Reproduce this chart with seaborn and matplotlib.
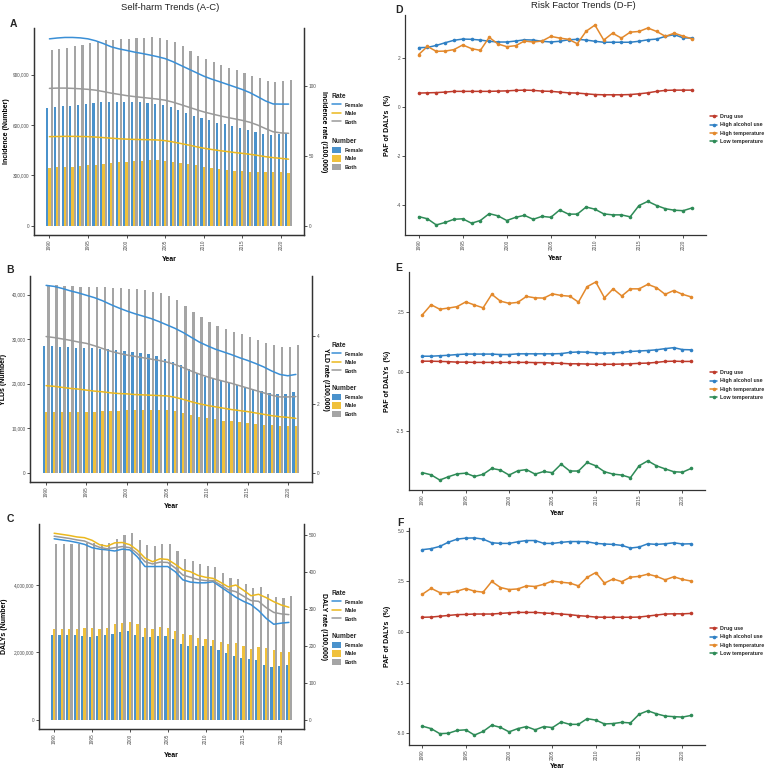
import numpy as np
import pandas as pd
import matplotlib
matplotlib.use('Agg')
import matplotlib.pyplot as plt
import seaborn as sns
from matplotlib.lines import Line2D
from matplotlib.patches import Patch
from matplotlib.ticker import FuncFormatter

years = list(range(1990, 2022))
sexes = ['Female', 'Male', 'Both']
risks = ['Drug use', 'High alcohol use', 'High temperature', 'Low temperature']

# --- A: incidence ---
inc_female = [699, 705, 711, 713, 719, 725, 731, 735, 735, 735, 735, 737, 735, 731, 725, 717,
              705, 690, 672, 654, 640, 628, 614, 604, 594, 584, 572, 558, 546, 542, 546, 550]
inc_male = [346, 348, 350, 352, 355, 358, 363, 367, 372, 376, 380, 383, 386, 388, 389, 386,
            380, 374, 366, 358, 350, 343, 337, 332, 327, 323, 320, 318, 318, 318, 318, 316]
inc_both = [1047, 1053, 1059, 1067, 1077, 1089, 1099, 1103, 1107, 1109, 1113, 1117, 1119, 1121, 1115, 1107,
            1091, 1067, 1041, 1013, 992, 972, 954, 938, 924, 910, 894, 878, 864, 858, 864, 868]
inc_rate_female = [134.2, 134.8, 135.2, 135.2, 134.9, 134.2, 132.8, 130.8, 128.5, 127.0, 125.9, 124.7, 123.7, 122.6, 121.4, 120.0,
                   117.8, 115.2, 112.6, 110.0, 107.4, 105.3, 103.5, 101.6, 99.7, 97.8, 95.5, 92.6, 89.6, 87.4, 87.3, 87.3]
inc_rate_male = [63.9, 64.0, 64.1, 64.1, 64.0, 63.9, 63.6, 63.2, 62.8, 62.4, 62.1, 61.9, 61.8, 61.7, 61.5, 61.0,
                 60.1, 59.0, 57.9, 56.7, 55.6, 54.7, 53.9, 53.2, 52.5, 51.9, 51.2, 50.4, 49.5, 48.8, 48.3, 47.7]
inc_rate_both = [98.6, 98.8, 98.8, 98.6, 98.3, 97.9, 97.3, 96.3, 95.2, 94.3, 93.4, 92.7, 92.1, 91.5, 90.9, 90.1,
                 88.7, 87.0, 85.2, 83.4, 81.7, 80.3, 79.0, 77.8, 76.7, 75.6, 74.2, 72.2, 69.7, 67.4, 66.6, 66.3]

# --- B: YLDs ---
yld_female = [28.4, 28.4, 28.3, 28.2, 28.1, 28.1, 28.0, 27.9, 27.7, 27.5, 27.3, 27.1, 26.9, 26.6, 26.2, 25.6,
              24.9, 24.1, 23.2, 22.3, 21.6, 21.0, 20.6, 20.2, 19.8, 19.3, 18.9, 18.4, 18.0, 17.7, 17.7, 18.1]
yld_male = [13.7, 13.7, 13.7, 13.7, 13.7, 13.7, 13.7, 13.8, 13.9, 13.9, 14.0, 14.1, 14.1, 14.1, 14.1, 14.0,
            13.8, 13.4, 13.0, 12.6, 12.3, 12.0, 11.7, 11.5, 11.3, 11.1, 10.9, 10.8, 10.6, 10.5, 10.5, 10.5]
yld_both = [42.1, 42.1, 42.0, 41.9, 41.8, 41.8, 41.8, 41.7, 41.5, 41.4, 41.3, 41.2, 41.0, 40.7, 40.3, 39.6,
            38.7, 37.5, 36.2, 35.0, 33.9, 33.0, 32.3, 31.7, 31.1, 30.5, 29.9, 29.2, 28.6, 28.2, 28.2, 28.6]
yld_rate_female = [5.49, 5.46, 5.40, 5.33, 5.27, 5.20, 5.13, 5.04, 4.93, 4.83, 4.74, 4.66, 4.59, 4.52, 4.43, 4.33,
                   4.23, 4.11, 3.97, 3.83, 3.72, 3.62, 3.54, 3.46, 3.37, 3.29, 3.20, 3.10, 2.98, 2.88, 2.84, 2.88]
yld_rate_male = [2.55, 2.53, 2.50, 2.47, 2.45, 2.42, 2.39, 2.37, 2.34, 2.32, 2.31, 2.29, 2.28, 2.27, 2.26, 2.25,
                 2.21, 2.15, 2.08, 2.02, 1.97, 1.93, 1.89, 1.85, 1.82, 1.79, 1.75, 1.71, 1.67, 1.64, 1.62, 1.59]
yld_rate_both = [3.99, 3.96, 3.92, 3.88, 3.83, 3.79, 3.72, 3.64, 3.56, 3.50, 3.45, 3.41, 3.37, 3.33, 3.29, 3.24,
                 3.17, 3.08, 2.98, 2.89, 2.81, 2.74, 2.68, 2.62, 2.55, 2.48, 2.41, 2.34, 2.27, 2.22, 2.22, 2.23]

# --- C: DALYs ---
daly_female = [2.52, 2.52, 2.51, 2.51, 2.50, 2.47, 2.49, 2.52, 2.56, 2.61, 2.64, 2.53, 2.45, 2.47, 2.48, 2.49,
               2.39, 2.26, 2.20, 2.19, 2.18, 2.18, 2.08, 1.97, 1.88, 1.83, 1.80, 1.76, 1.64, 1.58, 1.61, 1.64]
daly_male = [2.71, 2.70, 2.70, 2.71, 2.74, 2.73, 2.71, 2.74, 2.83, 2.88, 2.91, 2.84, 2.73, 2.69, 2.76, 2.74,
             2.63, 2.55, 2.52, 2.43, 2.40, 2.37, 2.30, 2.24, 2.28, 2.20, 2.11, 2.15, 2.13, 2.07, 2.02, 2.01]
daly_both = [5.23, 5.23, 5.22, 5.23, 5.26, 5.25, 5.21, 5.25, 5.38, 5.50, 5.54, 5.35, 5.18, 5.16, 5.23, 5.23,
             5.01, 4.79, 4.72, 4.64, 4.57, 4.55, 4.37, 4.22, 4.17, 4.03, 3.90, 3.93, 3.75, 3.65, 3.63, 3.67]
daly_rate_female = [489, 486, 483, 479, 474, 465, 461, 459, 456, 461, 459, 440, 414, 414, 414, 414,
                    400, 378, 372, 370, 370, 373, 359, 345, 331, 320, 311, 295, 274, 258, 261, 263]
daly_rate_male = [504, 501, 498, 494, 492, 485, 473, 469, 478, 479, 473, 458, 437, 427, 435, 433,
                  420, 405, 400, 390, 385, 382, 371, 359, 364, 350, 335, 339, 330, 319, 310, 304]
daly_rate_both = [496, 493, 490, 486, 483, 474, 466, 462, 465, 468, 465, 449, 427, 421, 426, 425,
                  410, 391, 385, 379, 376, 376, 364, 351, 346, 334, 322, 320, 303, 290, 286, 284]

# --- D-F: PAF of DALYs (%) ---
d_drug = [0.57, 0.58, 0.59, 0.61, 0.64, 0.64, 0.64, 0.64, 0.64, 0.65, 0.66, 0.68, 0.69, 0.68, 0.65, 0.64,
          0.61, 0.58, 0.57, 0.54, 0.51, 0.50, 0.50, 0.50, 0.51, 0.54, 0.58, 0.64, 0.68, 0.69, 0.69, 0.69]
d_alcohol = [2.42, 2.43, 2.51, 2.62, 2.72, 2.77, 2.76, 2.73, 2.68, 2.65, 2.65, 2.69, 2.74, 2.73, 2.68, 2.65,
             2.68, 2.74, 2.76, 2.73, 2.68, 2.64, 2.64, 2.64, 2.64, 2.68, 2.74, 2.77, 2.88, 2.95, 2.82, 2.81]
d_hightemp = [2.14, 2.47, 2.27, 2.28, 2.34, 2.53, 2.38, 2.31, 2.84, 2.57, 2.46, 2.50, 2.69, 2.65, 2.69, 2.88,
              2.81, 2.76, 2.58, 3.09, 3.34, 2.73, 3.01, 2.81, 3.05, 3.08, 3.22, 3.08, 2.88, 3.01, 2.89, 2.78]
d_lowtemp = [-4.46, -4.55, -4.80, -4.70, -4.57, -4.55, -4.73, -4.62, -4.34, -4.43, -4.62, -4.49, -4.41, -4.57, -4.45, -4.49,
             -4.19, -4.36, -4.36, -4.07, -4.16, -4.35, -4.39, -4.39, -4.47, -4.01, -3.84, -4.01, -4.14, -4.20, -4.22, -4.11]

e_drug = [0.44, 0.44, 0.43, 0.42, 0.40, 0.40, 0.39, 0.39, 0.39, 0.39, 0.39, 0.39, 0.39, 0.38, 0.38, 0.36,
          0.35, 0.33, 0.33, 0.32, 0.31, 0.31, 0.31, 0.32, 0.33, 0.35, 0.36, 0.39, 0.43, 0.44, 0.43, 0.43]
e_alcohol = [0.65, 0.65, 0.67, 0.69, 0.72, 0.74, 0.74, 0.74, 0.74, 0.72, 0.72, 0.75, 0.75, 0.75, 0.75, 0.75,
             0.76, 0.81, 0.83, 0.82, 0.79, 0.78, 0.79, 0.81, 0.85, 0.87, 0.89, 0.92, 0.97, 1.01, 0.93, 0.92]
e_hightemp = [2.40, 2.82, 2.63, 2.68, 2.74, 2.94, 2.81, 2.69, 3.26, 2.97, 2.88, 2.92, 3.17, 3.11, 3.10, 3.28,
              3.21, 3.18, 2.93, 3.58, 3.78, 3.11, 3.49, 3.19, 3.49, 3.49, 3.68, 3.54, 3.26, 3.42, 3.26, 3.15]
e_lowtemp = [-4.26, -4.35, -4.57, -4.43, -4.31, -4.28, -4.42, -4.33, -4.08, -4.15, -4.36, -4.18, -4.13, -4.32, -4.21, -4.26,
             -3.90, -4.19, -4.19, -3.83, -3.97, -4.22, -4.32, -4.36, -4.47, -3.97, -3.76, -3.97, -4.10, -4.22, -4.24, -4.08]

f_drug = [0.73, 0.74, 0.78, 0.82, 0.86, 0.87, 0.89, 0.89, 0.89, 0.92, 0.95, 0.97, 0.97, 0.97, 0.94, 0.92,
          0.89, 0.86, 0.81, 0.78, 0.74, 0.73, 0.73, 0.73, 0.73, 0.74, 0.79, 0.84, 0.89, 0.90, 0.90, 0.92]
f_alcohol = [4.07, 4.12, 4.23, 4.44, 4.59, 4.64, 4.65, 4.59, 4.41, 4.38, 4.38, 4.46, 4.52, 4.52, 4.38, 4.38,
             4.43, 4.47, 4.47, 4.46, 4.38, 4.35, 4.33, 4.28, 4.15, 4.20, 4.36, 4.33, 4.36, 4.41, 4.35, 4.36]
f_hightemp = [1.87, 2.16, 1.95, 1.94, 2.02, 2.15, 2.02, 1.97, 2.50, 2.20, 2.10, 2.13, 2.28, 2.25, 2.36, 2.52,
              2.46, 2.42, 2.28, 2.70, 2.94, 2.42, 2.62, 2.49, 2.71, 2.75, 2.86, 2.75, 2.58, 2.73, 2.60, 2.52]
f_lowtemp = [-4.65, -4.77, -5.02, -5.00, -4.86, -4.83, -5.09, -4.91, -4.60, -4.71, -4.93, -4.77, -4.67, -4.83, -4.67, -4.72,
             -4.44, -4.56, -4.56, -4.28, -4.35, -4.54, -4.52, -4.46, -4.49, -4.06, -3.89, -4.04, -4.15, -4.18, -4.20, -4.12]

bar_colors = {'Female': '#4A92CC', 'Male': '#F0C13C', 'Both': '#A5A5A5'}
line_colors = {'Female': '#3A8FD6', 'Male': '#EBB81E', 'Both': '#9A9A9A'}
risk_colors = {'Drug use': '#BE3B2C', 'High alcohol use': '#2F80C4',
               'High temperature': '#E3892C', 'Low temperature': '#2E8B57'}

sns.set_theme(style='ticks')
plt.rcParams['font.family'] = ['Liberation Sans', 'DejaVu Sans']

W, H = 767, 770
fig = plt.figure(figsize=(W / 100, H / 100), dpi=100)
AXC = '#333333'
TXC = '#4D4D4D'
TICK_FS = 3.4
LAB_FS = 5
LEG_FS = 4


def box(l, t, r, b):
    return [l / W, 1 - b / H, (r - l) / W, (b - t) / H]


def style_axis(ax):
    ax.tick_params(length=2.0, width=0.6, color=AXC, labelsize=TICK_FS, labelcolor=TXC, pad=1.2)
    for s in ax.spines.values():
        s.set_color(AXC)
        s.set_linewidth(0.9)
    ax.spines['top'].set_visible(False)


def label_coords(ax, rect, ylab_x, year_y):
    l, t, r, b = rect
    ax.yaxis.set_label_coords((ylab_x - l) / (r - l), 0.5)
    ax.xaxis.set_label_coords(0.5, -(year_y - b) / (b - t))


def bar_panel(rect, nums, rates, scale, ylim, rlim, yticks, rticks, ylabel, rlabel,
              ylab_x, rlab_x, year_y, letter, letter_xy, leg_y, leg_gap):
    ax = fig.add_axes(box(*rect))
    df = pd.DataFrame({'Year': years * 3,
                       'Sex': [s for s in sexes for _ in years],
                       'Value': [v * scale for n in nums for v in n]})
    sns.barplot(data=df, x='Year', y='Value', hue='Sex', hue_order=sexes, palette=bar_colors,
                native_scale=True, width=0.85, errorbar=None, saturation=1, legend=False,
                linewidth=0, ax=ax)
    ax2 = ax.twinx()
    rdf = pd.DataFrame({'Year': years * 3,
                        'Sex': [s for s in sexes for _ in years],
                        'Rate': [v for r in rates for v in r]})
    sns.lineplot(data=rdf, x='Year', y='Rate', hue='Sex', hue_order=sexes, palette=line_colors,
                 linewidth=1.1, legend=False, ax=ax2)
    for a in (ax, ax2):
        style_axis(a)
        a.set_xlim(1988, 2023)
    ax.set_ylim(*ylim)
    ax2.set_ylim(*rlim)
    ax.set_yticks(yticks)
    ax.yaxis.set_major_formatter(FuncFormatter(lambda v, p: f'{v:,.0f}'))
    ax2.set_yticks(rticks)
    ax2.yaxis.set_major_formatter(FuncFormatter(lambda v, p: f'{v:g}'))
    ax.set_xticks(range(1990, 2021, 5))
    ax.tick_params(axis='x', labelrotation=90)
    ax.set_xlabel('Year', fontsize=LAB_FS, fontweight='bold', color='black')
    ax.set_ylabel(ylabel, fontsize=LAB_FS, fontweight='bold', color='black')
    ax2.set_ylabel(rlabel, fontsize=LAB_FS, fontweight='bold', color='black', rotation=270, va='center')
    label_coords(ax, rect, ylab_x, year_y)
    l, t, r, b = rect
    ax2.yaxis.set_label_coords((rlab_x - l) / (r - l), 0.5)
    fig.text(letter_xy[0] / W, 1 - letter_xy[1] / H, letter, fontsize=7.5, fontweight='bold',
             ha='left', va='center')

    rate_h = [Line2D([0], [0], color=line_colors[s], lw=1.1) for s in sexes]
    num_h = [Patch(facecolor=bar_colors[s], edgecolor='none') for s in sexes]
    common = dict(loc='upper left', bbox_transform=fig.transFigure, frameon=False,
                  prop={'size': LEG_FS, 'weight': 'bold'},
                  handlelength=1.6, handleheight=1.4, labelspacing=0.35, handletextpad=0.6,
                  borderpad=0, borderaxespad=0, alignment='left',
                  title_fontproperties={'weight': 'bold', 'size': 4.8})
    lg1 = ax2.legend(rate_h, sexes, title='Rate', bbox_to_anchor=(332 / W, 1 - leg_y / H), **common)
    ax2.add_artist(lg1)
    ax2.legend(num_h, sexes, title='Number', bbox_to_anchor=(332 / W, 1 - (leg_y + leg_gap) / H), **common)


def risk_panel(rect, series, ylim, yticks, fmt, ylab_x, year_y, letter, letter_xy, leg_y):
    ax = fig.add_axes(box(*rect))
    df = pd.DataFrame({'Year': years * 4,
                       'Risk': [k for k in risks for _ in years],
                       'PAF': [v for s in series for v in s]})
    sns.lineplot(data=df, x='Year', y='PAF', hue='Risk', hue_order=risks, palette=risk_colors,
                 marker='o', markersize=2.6, markeredgewidth=0, linewidth=1.1, legend=False, ax=ax)
    style_axis(ax)
    ax.spines['right'].set_visible(False)
    ax.set_xlim(1988.45, 2022.6)
    ax.set_ylim(*ylim)
    ax.set_yticks(yticks)
    ax.yaxis.set_major_formatter(FuncFormatter(lambda v, p: fmt.format(v)))
    ax.set_xticks(range(1990, 2021, 5))
    ax.tick_params(axis='x', labelrotation=90)
    ax.set_xlabel('Year', fontsize=LAB_FS, fontweight='bold', color='black')
    ax.set_ylabel('PAF of DALYs  (%)', fontsize=LAB_FS, fontweight='bold', color='black')
    label_coords(ax, rect, ylab_x, year_y)
    fig.text(letter_xy[0] / W, 1 - letter_xy[1] / H, letter, fontsize=7.5, fontweight='bold',
             ha='left', va='center')
    handles = [Line2D([0], [0], color=risk_colors[k], lw=1.1, marker='o', markersize=2.6,
                      markeredgewidth=0) for k in risks]
    ax.legend(handles, risks, loc='center left', bbox_to_anchor=(710 / W, 1 - leg_y / H),
              bbox_transform=fig.transFigure, frameon=False, prop={'size': 3.8, 'weight': 'bold'},
              handlelength=1.4, labelspacing=0.6, handletextpad=0.45, borderpad=0, borderaxespad=0)


bar_panel((34, 28, 304, 235), [inc_female, inc_male, inc_both],
          [inc_rate_female, inc_rate_male, inc_rate_both], 1000,
          (-56000, 1177000), (-6.8, 142), [0, 300000, 600000, 900000], [0, 50, 100],
          'Incidence (Number)', 'Incidence rate (/100,000)', 10, 323, 256, 'A', (10, 24), 93, 45)
bar_panel((30, 276, 312, 482), [yld_female, yld_male, yld_both],
          [yld_rate_female, yld_rate_male, yld_rate_both], 1000,
          (-2100, 44200), (-0.274, 5.765), [0, 10000, 20000, 30000, 40000], [0, 2, 4],
          'YLDs (Number)', 'YLD rate (/100,000)', 7, 325, 503, 'B', (6, 270), 342, 43)
bar_panel((39, 524, 304, 729), [daly_female, daly_male, daly_both],
          [daly_rate_female, daly_rate_male, daly_rate_both], 1e6,
          (-277000, 5817000), (-25.2, 529), [0, 2000000, 4000000], [0, 100, 200, 300, 400, 500],
          'DALYs (Number)', 'DALY rate (/100,000)', 8, 324, 752, 'C', (7, 519), 590, 43)

risk_panel((405, 15, 706, 235), [d_drug, d_alcohol, d_hightemp, d_lowtemp],
           (-5.21, 3.75), [-4, -2, 0, 2], '{:.0f}', 391, 255, 'D', (395, 10), 129)
risk_panel((409, 272, 705, 490), [e_drug, e_alcohol, e_hightemp, e_lowtemp],
           (-4.99, 4.2), [-2.5, 0, 2.5], '{:.1f}', 391, 510, 'E', (395, 268), 385)
risk_panel((409, 528, 705, 745), [f_drug, f_alcohol, f_hightemp, f_lowtemp],
           (-5.58, 5.14), [-5, -2.5, 0, 2.5, 5], '{:.1f}', 391, 763, 'F', (397, 523), 641)

fig.text(170 / W, 1 - 7 / H, 'Self-harm Trends (A-C)', ha='center', va='center', fontsize=6.8, color='#222222')
fig.text(583 / W, 1 - 6 / H, 'Risk Factor Trends (D-F)', ha='center', va='center', fontsize=6.8, color='#222222')

fig.savefig('out.png', dpi=100, facecolor='white')
